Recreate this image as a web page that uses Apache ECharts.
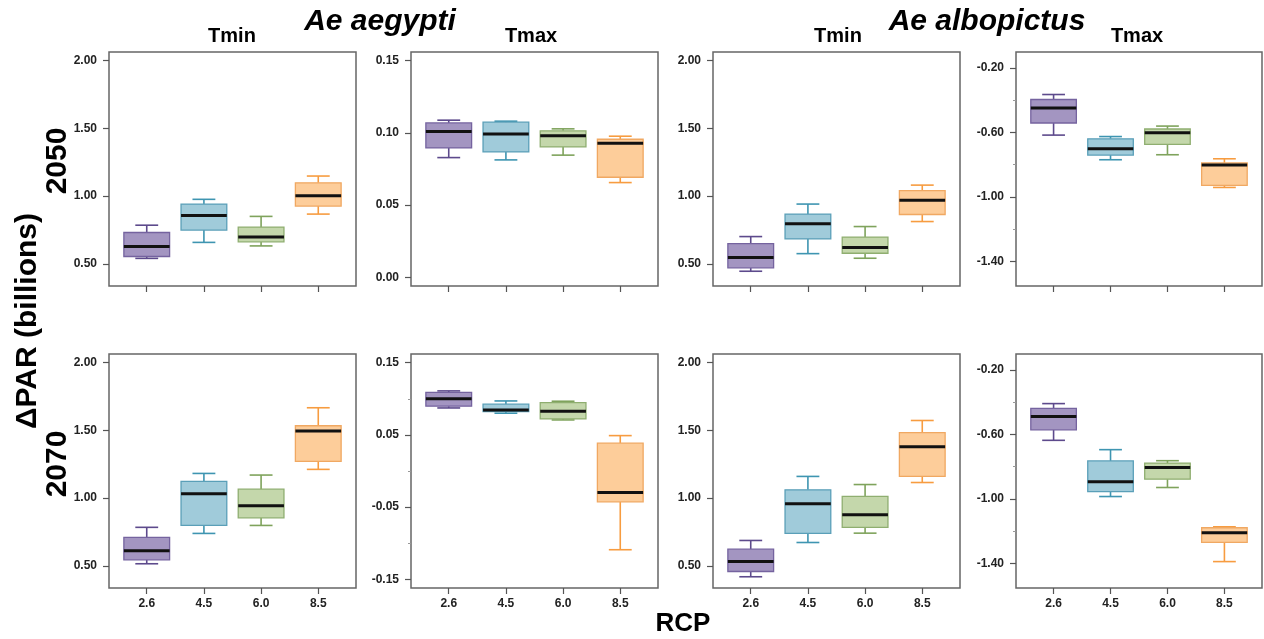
<!DOCTYPE html>
<html>
<head>
<meta charset="utf-8">
<title>ΔPAR boxplots</title>
<script src="https://cdn.jsdelivr.net/npm/echarts@6/dist/echarts.min.js"></script>
<style>
  html, body { margin: 0; padding: 0; background: #fff; }
  #chart { width: 1264px; height: 639px; }
</style>
</head>
<body>
<div id="chart"></div>
<script type="text/javascript">
// RCP scenarios (x categories)
var rcp = ['2.6', '4.5', '6.0', '8.5'];

// each row: [min, Q1, median, Q3, max], one row per RCP
var aegTmin2050 = [[0.540, 0.554, 0.628, 0.731, 0.785], [0.658, 0.749, 0.857, 0.941, 0.976], [0.632, 0.662, 0.697, 0.771, 0.850], [0.867, 0.926, 1.002, 1.098, 1.148]];
var aegTmax2050 = [[0.0829, 0.0896, 0.1009, 0.1069, 0.1088], [0.0813, 0.0868, 0.0993, 0.1074, 0.1081], [0.0846, 0.0903, 0.0981, 0.1014, 0.1028], [0.0656, 0.0693, 0.0929, 0.0956, 0.0977]];
var albTmin2050 = [[0.445, 0.470, 0.546, 0.649, 0.701], [0.575, 0.684, 0.795, 0.867, 0.941], [0.541, 0.578, 0.620, 0.697, 0.775], [0.812, 0.864, 0.970, 1.041, 1.081]];
var albTmax2050 = [[-0.616, -0.541, -0.448, -0.395, -0.364], [-0.769, -0.740, -0.701, -0.639, -0.625], [-0.738, -0.674, -0.601, -0.578, -0.560], [-0.941, -0.928, -0.802, -0.789, -0.763]];
var aegTmin2070 = [[0.515, 0.544, 0.611, 0.710, 0.784], [0.739, 0.798, 1.032, 1.123, 1.182], [0.798, 0.854, 0.943, 1.066, 1.170], [1.212, 1.271, 1.495, 1.534, 1.667]];
var aegTmax2070 = [[0.0873, 0.0897, 0.1002, 0.1090, 0.1109], [0.0800, 0.0822, 0.0846, 0.0925, 0.0970], [0.0707, 0.0721, 0.0828, 0.0947, 0.0966], [-0.109, -0.0427, -0.0298, 0.0385, 0.049]];
var albTmin2070 = [[0.419, 0.458, 0.532, 0.623, 0.687], [0.672, 0.739, 0.958, 1.061, 1.160], [0.741, 0.783, 0.877, 1.012, 1.100], [1.115, 1.160, 1.379, 1.484, 1.573]];
var albTmax2070 = [[-0.636, -0.571, -0.4875, -0.4375, -0.408], [-0.985, -0.954, -0.894, -0.764, -0.694], [-0.929, -0.877, -0.804, -0.777, -0.7625], [-1.389, -1.270, -1.210, -1.179, -1.173]];

// y tick labels
var tminTicks = [0.5, 1.0, 1.5, 2.0];
var aegTmax2050Ticks = [0, 0.05, 0.1, 0.15];
var aegTmax2070Ticks = [-0.15, -0.05, 0.05, 0.15];
var aegTmax2070Minor = [-0.1, 0, 0.1];
var albTmaxTicks = [-1.4, -1.0, -0.6, -0.2];
var albTmaxMinor = [-1.2, -0.8, -0.4];

// box colours per RCP: fill, border, whisker
var fills = ['#a395c1', '#a0cbda', '#c4d7ab', '#fdcd9a'];
var borders = ['#75639f', '#5a9fb8', '#8fae70', '#f0a862'];
var whiskers = ['#5d4a8c', '#3e95b1', '#7fa35c', '#f79c40'];

var FONT = '"Liberation Sans", Arial, sans-serif';

// panel layout (row, col)
var panels = [
    {data: aegTmin2050, ticks: tminTicks, minor: [], min: 0.336, max: 2.064, row: 0, col: 0},
    {data: aegTmax2050, ticks: aegTmax2050Ticks, minor: [], min: -0.006, max: 0.156, row: 0, col: 1},
    {data: albTmin2050, ticks: tminTicks, minor: [], min: 0.336, max: 2.064, row: 0, col: 2},
    {data: albTmax2050, ticks: albTmaxTicks, minor: albTmaxMinor, min: -1.553, max: -0.1, row: 0, col: 3},
    {data: aegTmin2070, ticks: tminTicks, minor: [], min: 0.336, max: 2.064, row: 1, col: 0},
    {data: aegTmax2070, ticks: aegTmax2070Ticks, minor: aegTmax2070Minor, min: -0.162, max: 0.162, row: 1, col: 1},
    {data: albTmin2070, ticks: tminTicks, minor: [], min: 0.336, max: 2.064, row: 1, col: 2},
    {data: albTmax2070, ticks: albTmaxTicks, minor: albTmaxMinor, min: -1.553, max: -0.1, row: 1, col: 3}
];
var lefts = [109, 411, 713, 1016];
var tops = [52, 354];

function renderBox(params, api) {
    var i = params.dataIndex;
    var x = api.value(0);
    var pMin = api.coord([x, api.value(1)]);
    var pQ1 = api.coord([x, api.value(2)]);
    var pMed = api.coord([x, api.value(3)]);
    var pQ3 = api.coord([x, api.value(4)]);
    var pMax = api.coord([x, api.value(5)]);
    var half = api.size([0.4, 0])[0];
    var cap = api.size([0.2, 0])[0];
    var wStyle = {stroke: whiskers[i], lineWidth: 1.6};
    return {
        type: 'group',
        children: [
            {type: 'line', shape: {x1: pMin[0], y1: pMin[1], x2: pQ1[0], y2: pQ1[1]}, style: wStyle},
            {type: 'line', shape: {x1: pQ3[0], y1: pQ3[1], x2: pMax[0], y2: pMax[1]}, style: wStyle},
            {type: 'line', shape: {x1: pMin[0] - cap, y1: pMin[1], x2: pMin[0] + cap, y2: pMin[1]}, style: wStyle},
            {type: 'line', shape: {x1: pMax[0] - cap, y1: pMax[1], x2: pMax[0] + cap, y2: pMax[1]}, style: wStyle},
            {type: 'rect', shape: {x: pQ3[0] - half, y: pQ3[1], width: half * 2, height: pQ1[1] - pQ3[1]},
                style: {fill: fills[i], stroke: borders[i], lineWidth: 1.3}},
            {type: 'line', shape: {x1: pMed[0] - half, y1: pMed[1], x2: pMed[0] + half, y2: pMed[1]},
                style: {stroke: '#111', lineWidth: 3}}
        ]
    };
}

var grid = [], xAxis = [], yAxis = [], series = [];
panels.forEach(function (p, k) {
    grid.push({
        left: lefts[p.col], top: tops[p.row], width: p.col === 3 ? 246 : 247, height: 234,
        show: true, borderColor: '#666', borderWidth: 1.5, backgroundColor: '#fff',
        outerBoundsMode: 'none'
    });
    xAxis.push({
        type: 'value', gridIndex: k, position: 'bottom', min: 0.34, max: 4.66,
        axisLine: {show: false, onZero: false}, splitLine: {show: false},
        axisTick: {show: true, length: 6, customValues: [1, 2, 3, 4], lineStyle: {color: '#555', width: 1.2}},
        axisLabel: {
            show: p.row === 1, customValues: [1, 2, 3, 4], margin: 10,
            fontFamily: FONT, fontWeight: 'bold', fontSize: 12, color: '#222',
            formatter: function (v) { return rcp[Math.round(v) - 1]; }
        }
    });
    yAxis.push({
        type: 'value', gridIndex: k, position: 'left', min: p.min, max: p.max,
        axisLine: {show: false, onZero: false}, splitLine: {show: false},
        axisTick: {show: true, length: 6, customValues: p.ticks, lineStyle: {color: '#555', width: 1.2}},
        axisLabel: {
            customValues: p.ticks, margin: 12,
            fontFamily: FONT, fontWeight: 'bold', fontSize: 12, color: '#222',
            formatter: function (v) { return v.toFixed(2); }
        }
    });
    // minor ticks, no labels
    yAxis.push({
        type: 'value', gridIndex: k, position: 'left', min: p.min, max: p.max,
        axisLine: {show: false, onZero: false}, splitLine: {show: false},
        axisTick: {show: p.minor.length > 0, length: 3, customValues: p.minor.length ? p.minor : [p.min], lineStyle: {color: '#999', width: 1}},
        axisLabel: {show: false}
    });
    series.push({
        type: 'custom', xAxisIndex: k, yAxisIndex: 2 * k,
        encode: {x: 0, y: [1, 2, 3, 4, 5]},
        renderItem: renderBox,
        data: p.data.map(function (r, i) { return [i + 1].concat(r); })
    });
});

function label(text, x, y, size, opts) {
    opts = opts || {};
    return {
        type: 'text', x: x, y: y, rotation: opts.rot || 0,
        style: {
            text: text, fill: '#000',
            font: (opts.italic ? 'italic ' : '') + 'bold ' + size + 'px ' + FONT,
            textAlign: 'center', textVerticalAlign: 'middle'
        }
    };
}

var myChart = echarts.init(document.getElementById('chart'));
var option = {
    backgroundColor: '#fff',
    animation: false,
    grid: grid,
    xAxis: xAxis,
    yAxis: yAxis,
    series: series,
    graphic: [
        label('Tmin', 232, 36, 20),
        label('Ae aegypti', 380, 22, 30, {italic: true}),
        label('Tmax', 531, 36, 20),
        label('Tmin', 838, 36, 20),
        label('Ae albopictus', 987, 22, 30, {italic: true}),
        label('Tmax', 1137, 36, 20),
        label('2050', 58, 161, 30, {rot: Math.PI / 2}),
        label('2070', 58, 464, 30, {rot: Math.PI / 2}),
        label('ΔPAR (billions)', 28, 321, 30, {rot: Math.PI / 2}),
        label('RCP', 683, 624, 26)
    ]
};
myChart.setOption(option);
</script>
</body>
</html>
